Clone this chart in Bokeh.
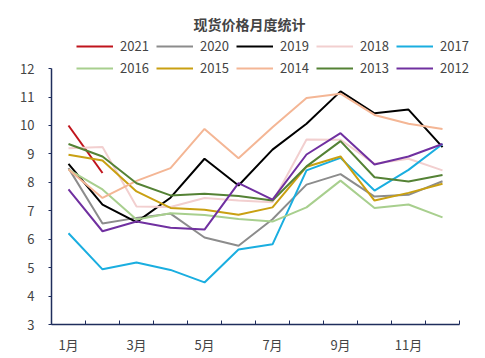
from bokeh.plotting import figure
from bokeh.models import FixedTicker, Legend, LegendItem, Range1d
from bokeh.embed import file_html
from bokeh.resources import INLINE

months = list(range(1, 13))
month_labels = ["1月", "2月", "3月", "4月", "5月", "6月", "7月", "8月", "9月", "10月", "11月", "12月"]
years = ["2021", "2020", "2019", "2018", "2017", "2016", "2015", "2014", "2013", "2012"]

y2021 = [10.0, 8.33]
y2020 = [8.5, 6.55, 6.75, 6.9, 6.06, 5.77, 6.7, 7.92, 8.29, 7.5, 7.56, 8.04]
y2019 = [8.65, 7.22, 6.6, 7.46, 8.83, 7.89, 9.15, 10.06, 11.2, 10.43, 10.56, 9.24]
y2018 = [9.2, 9.24, 7.15, 7.13, 7.45, 7.36, 7.3, 9.51, 9.5, 8.65, 8.83, 8.42]
y2017 = [6.21, 4.94, 5.18, 4.92, 4.48, 5.64, 5.82, 8.42, 8.86, 7.71, 8.44, 9.35]
y2016 = [8.45, 7.75, 6.69, 6.91, 6.85, 6.71, 6.62, 7.12, 8.06, 7.1, 7.22, 6.77]
y2015 = [8.97, 8.77, 7.68, 7.1, 7.04, 6.86, 7.12, 8.55, 8.91, 7.36, 7.63, 7.95]
y2014 = [8.45, 7.45, 8.05, 8.5, 9.88, 8.85, 9.94, 10.97, 11.12, 10.37, 10.06, 9.88]
y2013 = [9.35, 8.91, 7.97, 7.54, 7.6, 7.52, 7.36, 8.56, 9.45, 8.18, 8.03, 8.26]
y2012 = [7.75, 6.28, 6.62, 6.4, 6.34, 7.97, 7.39, 8.98, 9.73, 8.63, 8.91, 9.35]

series = [y2021, y2020, y2019, y2018, y2017, y2016, y2015, y2014, y2013, y2012]
colors = ["#C0141C", "#8C8C8C", "#000000", "#F2CFCF", "#1AAEE0",
          "#A8CF8E", "#C9A012", "#F4B695", "#548235", "#7030A0"]

FONT = "Noto Sans CJK SC"
AXIS_COLOR = "#1F2D5C"

p = figure(width=485, height=358, output_backend="svg", toolbar_location=None,
           x_range=Range1d(0.5, 12.97), y_range=Range1d(3, 13.2),
           min_border_left=51, min_border_right=10, min_border_bottom=34,
           min_border_top=34, title="现货价格月度统计")
p.title.align = "left"
p.title.offset = 142
p.title.standoff = 2
p.title.text_font = FONT
p.title.text_font_size = "14px"
p.title.text_font_style = "bold"
p.outline_line_color = None
p.xgrid.grid_line_color = None
p.ygrid.grid_line_color = None

items = []
for name, ys, c in zip(years, series, colors):
    r = p.line(months[:len(ys)], ys, line_color=c, line_width=2)
    items.append(LegendItem(label=name, renderers=[r]))

legend = Legend(items=items, orientation="horizontal", ncols=5, location=(25, 247),
                glyph_width=37, glyph_height=16, label_standoff=7, spacing=3,
                label_width=33, label_height=16,
                label_text_font=FONT, label_text_font_size="13px",
                padding=0, margin=0, border_line_color=None, background_fill_alpha=0)
p.add_layout(legend, "center")

xa = p.xaxis[0]
xa.ticker = FixedTicker(ticks=[1, 3, 5, 7, 9, 11], minor_ticks=[i + 0.5 for i in range(0, 13)])
xa.bounds = (0.5, 12.5)
xa.major_label_overrides = {m: lab for m, lab in zip(months, month_labels)}
xa.major_tick_in = 0
xa.major_tick_out = 0
xa.minor_tick_in = 4
xa.minor_tick_out = 0
xa.minor_tick_line_color = AXIS_COLOR
xa.axis_line_color = AXIS_COLOR
xa.axis_line_width = 1.5
xa.major_label_text_font = FONT
xa.major_label_text_font_size = "13px"
xa.major_label_standoff = 10

ya = p.yaxis[0]
ya.ticker = FixedTicker(ticks=list(range(3, 13)))
ya.bounds = (3, 12)
ya.major_tick_in = 0
ya.major_tick_out = 3
ya.minor_tick_line_color = None
ya.major_tick_line_color = AXIS_COLOR
ya.axis_line_color = AXIS_COLOR
ya.axis_line_width = 1.5
ya.major_label_text_font = FONT
ya.major_label_text_font_size = "13px"
ya.major_label_standoff = 14

open("out.html", "w").write(file_html(p, INLINE))
